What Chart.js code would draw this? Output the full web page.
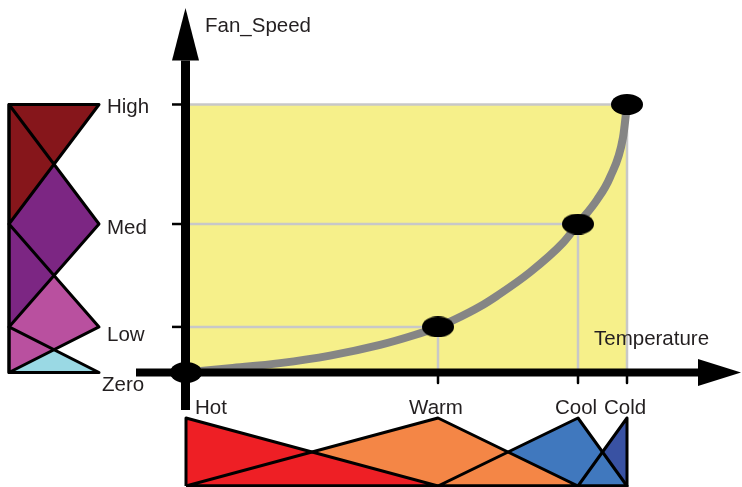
<!DOCTYPE html>
<html><head><meta charset="utf-8">
<script src="https://cdn.jsdelivr.net/npm/chart.js@4.4.1/dist/chart.umd.min.js"></script>
<style>
html,body{margin:0;padding:0;background:#fff;}
#wrap{position:relative;width:742px;height:487px;overflow:hidden;}
canvas{position:absolute;left:0;top:0;}
</style></head><body>
<div id="wrap">
<canvas id="main" width="742" height="487"></canvas>
<canvas id="left" width="742" height="487"></canvas>
<canvas id="bottom" width="742" height="487"></canvas>
</div>
<script>
// ---- data ----
const tempNames = ['Hot', 'Warm', 'Cool', 'Cold'];
const tempValues = [0, 50.4, 78.4, 88.2];
const speedNames = ['Zero', 'Low', 'Med', 'High'];
const speedValues = [0, 17, 55.4, 100];
const curveTemp  = [0, 8.8, 18.8, 28.8, 38.8, 45.4, 50.4, 53.6, 58.8, 62.2, 68.8, 75.4, 78.4, 82.2, 84.8, 87.4, 88.2];
const curveSpeed = [0, 1.6, 3.5, 6.3, 10.3, 13.8, 17, 19.6, 24.6, 28.6, 37.4, 48.4, 55.4, 64.4, 72.8, 87.7, 100];
const tempColors  = ['#ee1f25', '#f48646', '#4078be', '#3952a3'];
const speedColors = ['#9ad9e4', '#b9509f', '#7c2683', '#86161b'];
const axisLabelX = 'Temperature';
const axisLabelY = 'Fan_Speed';

// axis ranges
const tempMin = -10, tempMax = 111;
const speedMin = -14, speedMax = 136;

const FONT = '20.5px "Liberation Sans", Arial, Helvetica, sans-serif';
const TEXT = '#231f20';

function baseOptions(pad, xr, yr) {
  return {
    responsive: false, animation: false, events: [],
    layout: { padding: pad, autoPadding: false },
    plugins: { legend: { display: false }, tooltip: { enabled: false }, filler: { drawTime: 'beforeDatasetsDraw' } },
    scales: {
      x: { type: 'linear', display: false, min: xr[0], max: xr[1] },
      y: { type: 'linear', display: false, min: yr[0], max: yr[1] }
    },
    elements: { point: { radius: 0 }, line: { tension: 0, borderJoinStyle: 'round', borderCapStyle: 'butt' } }
  };
}
function seg(points, color, width, order, extra) {
  return Object.assign({ data: points, borderColor: color, borderWidth: width, fill: false, pointRadius: 0, clip: false, order: order }, extra || {});
}
function poly(points, color, order) {
  return { data: points.concat([points[0]]), backgroundColor: color, borderWidth: 0, fill: 'shape', pointRadius: 0, clip: false, order: order };
}
function textPlugin(fn) {
  return { id: 'texts', afterDatasetsDraw(chart) {
    const ctx = chart.ctx; ctx.save(); ctx.fillStyle = TEXT; ctx.font = FONT; ctx.textBaseline = 'alphabetic';
    for (const it of fn(chart)) { ctx.textAlign = it.align; ctx.fillText(it.text, it.x, it.y); }
    ctx.restore();
  } };
}
function makeDot(w, h) {
  const c = document.createElement('canvas'); c.width = w; c.height = h;
  const g = c.getContext('2d'); g.fillStyle = '#000'; g.beginPath();
  g.ellipse(w / 2, h / 2, w / 2, h / 2, 0, 0, Math.PI * 2); g.fill(); return c;
}

// ---- main chart ----
const hot = tempValues[0], cold = tempValues[3], zero = speedValues[0], high = speedValues[3];
const mainDs = [];
mainDs.push(poly([{x: hot, y: zero}, {x: cold, y: zero}, {x: cold, y: high}, {x: hot, y: high}], '#f6f08a', 100));
for (let i = 1; i < 4; i++) {
  mainDs.push(seg([{x: hot, y: speedValues[i]}, {x: tempValues[i], y: speedValues[i]}], '#c8c8c8', 2.5, 90));
  mainDs.push(seg([{x: tempValues[i], y: zero}, {x: tempValues[i], y: speedValues[i]}], '#c8c8c8', 2.5, 90));
}
mainDs.push(seg(curveTemp.map((x, i) => ({x: x, y: curveSpeed[i]})), '#858585', 8, 80, { cubicInterpolationMode: 'monotone' }));
// axes
const yAxisT = -0.1, yArrowBase = 116.4, xArrowBase = 102.4;
mainDs.push(seg([{x: yAxisT, y: speedMin}, {x: yAxisT, y: yArrowBase}], '#000', 9, 70));
mainDs.push(poly([{x: yAxisT - 2.7, y: yArrowBase}, {x: yAxisT, y: speedMax}, {x: yAxisT + 2.7, y: yArrowBase}], '#000', 70));
mainDs.push(seg([{x: tempMin, y: zero}, {x: xArrowBase, y: zero}], '#000', 8, 70));
mainDs.push(poly([{x: xArrowBase, y: 5.0}, {x: tempMax, y: zero}, {x: xArrowBase, y: -5.0}], '#000', 70));
for (let i = 1; i < 4; i++) {
  mainDs.push(seg([{x: -2.8, y: speedValues[i]}, {x: -1, y: speedValues[i]}], '#000', 2.5, 60));
  mainDs.push(seg([{x: tempValues[i], y: -1}, {x: tempValues[i], y: -3.9}], '#000', 2.5, 60));
}
mainDs.push({ data: tempValues.map((x, i) => ({x: x, y: speedValues[i]})), showLine: false, pointStyle: makeDot(32, 21), pointRadius: 10, pointBorderWidth: 0, clip: false, order: 10 });

new Chart(document.getElementById('main'), {
  type: 'line',
  data: { datasets: mainDs },
  options: baseOptions({left: 136, right: 1, top: 8, bottom: 77}, [tempMin, tempMax], [speedMin, speedMax]),
  plugins: [textPlugin(chart => {
    const xs = chart.scales.x, ys = chart.scales.y;
    const out = [];
    out.push({ text: axisLabelY, align: 'left', x: xs.getPixelForValue(0) + 19, y: ys.getPixelForValue(speedMax) + 23.5 });
    out.push({ text: axisLabelX, align: 'left', x: xs.getPixelForValue(cold) - 33, y: ys.getPixelForValue(zero) - 27.5 });
    tempNames.forEach((n, i) => {
      out.push({ text: n, align: i === 0 ? 'left' : 'center', x: xs.getPixelForValue(tempValues[i]) + (i === 0 ? 9 : -2), y: ys.getPixelForValue(zero) + 41.5 });
    });
    return out;
  })]
});

// ---- membership helpers ----
function triangle(vals, i) {
  const lo = i > 0 ? vals[i - 1] : vals[i];
  const hi = i < vals.length - 1 ? vals[i + 1] : vals[i];
  return [[lo, 0], [vals[i], 1], [hi, 0]];
}

// ---- left membership (fan speed) ----
const leftDs = speedNames.map((n, i) => {
  const pts = triangle(speedValues, i).map(p => ({x: p[1], y: p[0]}));
  return { label: n, data: pts.concat([pts[0]]), backgroundColor: speedColors[i], borderColor: '#000', borderWidth: 3, fill: 'shape', pointRadius: 0, clip: false, order: 10 - i };
});
const speedLabelDx = [3, 8, 8, 8];
const speedLabelDy = [18.5, 14, 9.5, 8.5];
new Chart(document.getElementById('left'), {
  type: 'line',
  data: { datasets: leftDs },
  options: baseOptions({left: 9, right: 643, top: 8, bottom: 77}, [0, 1], [speedMin, speedMax]),
  plugins: [textPlugin(chart => speedNames.map((n, i) => ({
    text: n, align: 'left', x: chart.scales.x.getPixelForValue(1) + speedLabelDx[i], y: chart.scales.y.getPixelForValue(speedValues[i]) + speedLabelDy[i]
  })))]
});

// ---- bottom membership (temperature) ----
const botDs = tempNames.map((n, i) => {
  const pts = triangle(tempValues, i).map(p => ({x: p[0], y: p[1]}));
  return { label: n, data: pts.concat([pts[0]]), backgroundColor: tempColors[i], borderColor: '#000', borderWidth: 3, fill: 'shape', pointRadius: 0, clip: false, order: i + 1 };
});
new Chart(document.getElementById('bottom'), {
  type: 'line',
  data: { datasets: botDs },
  options: baseOptions({left: 136, right: 1, top: 418, bottom: 1}, [tempMin, tempMax], [0, 1])
});
</script>
</body></html>
